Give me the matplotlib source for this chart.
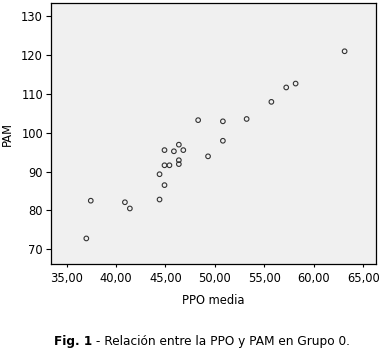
import matplotlib
matplotlib.use('Agg')
import matplotlib.pyplot as plt
from matplotlib.ticker import FuncFormatter

# ----------------------------------------------------------------
# Data (PPO media vs PAM, Grupo 0)
# ----------------------------------------------------------------
ppo_media = [63.1, 58.15, 57.2, 55.7, 53.2, 48.3, 50.8, 50.8, 49.3,
             46.35, 44.9, 45.85, 46.8, 44.9, 45.4, 46.35, 46.35, 44.4,
             44.9, 44.4, 37.45, 40.9, 41.4, 37.0]
pam = [120.9, 112.6, 111.6, 107.9, 103.5, 103.2, 102.9, 97.9, 93.9,
       96.9, 95.5, 95.2, 95.5, 91.6, 91.6, 92.9, 91.9, 89.3,
       86.5, 82.8, 82.5, 82.1, 80.5, 72.8]

x_ticks = [35, 40, 45, 50, 55, 60, 65]
y_ticks = [70, 80, 90, 100, 110, 120, 130]

x_label = 'PPO media'
y_label = 'PAM'
caption_bold = 'Fig. 1'
caption_rest = ' - Relación entre la PPO y PAM en Grupo 0.'

# ----------------------------------------------------------------
# Plot
# ----------------------------------------------------------------
plt.rcParams['font.family'] = ['DejaVu Sans']

fig = plt.figure(figsize=(3.87, 3.55), dpi=100)
ax = fig.add_axes([0.131, 0.256, 0.840, 0.7355])
ax.set_facecolor('#f0f0f0')

ax.scatter(ppo_media, pam, s=11, facecolors='none',
           edgecolors='#333333', linewidths=0.8, zorder=3)

ax.set_xlim(33.4, 66.25)
ax.set_ylim(66.2, 133.3)
ax.set_xticks(x_ticks)
ax.set_yticks(y_ticks)
ax.xaxis.set_major_formatter(
    FuncFormatter(lambda v, p: f'{v:.2f}'.replace('.', ',')))

ax.tick_params(axis='x', length=2.5, width=0.8, labelsize=8.3,
               pad=3, colors='black')
ax.tick_params(axis='y', length=3.5, width=0.8, labelsize=8.3,
               pad=2, colors='black')
for sp in ax.spines.values():
    sp.set_linewidth(0.9)
    sp.set_color('black')

ax.set_xlabel(x_label, fontsize=8.3, labelpad=7)
ax.set_ylabel(y_label, fontsize=8.3, labelpad=5)

# Caption: bold "Fig. 1" followed by regular text
t1 = fig.text(0.14, 0.027, caption_bold, fontsize=8.7,
              fontweight='bold', ha='left', va='baseline')
ax.annotate(caption_rest, xy=(1, 0), xycoords=t1,
            fontsize=8.7, ha='left', va='bottom',
            annotation_clip=False)

plt.savefig('out.png', dpi=100)
